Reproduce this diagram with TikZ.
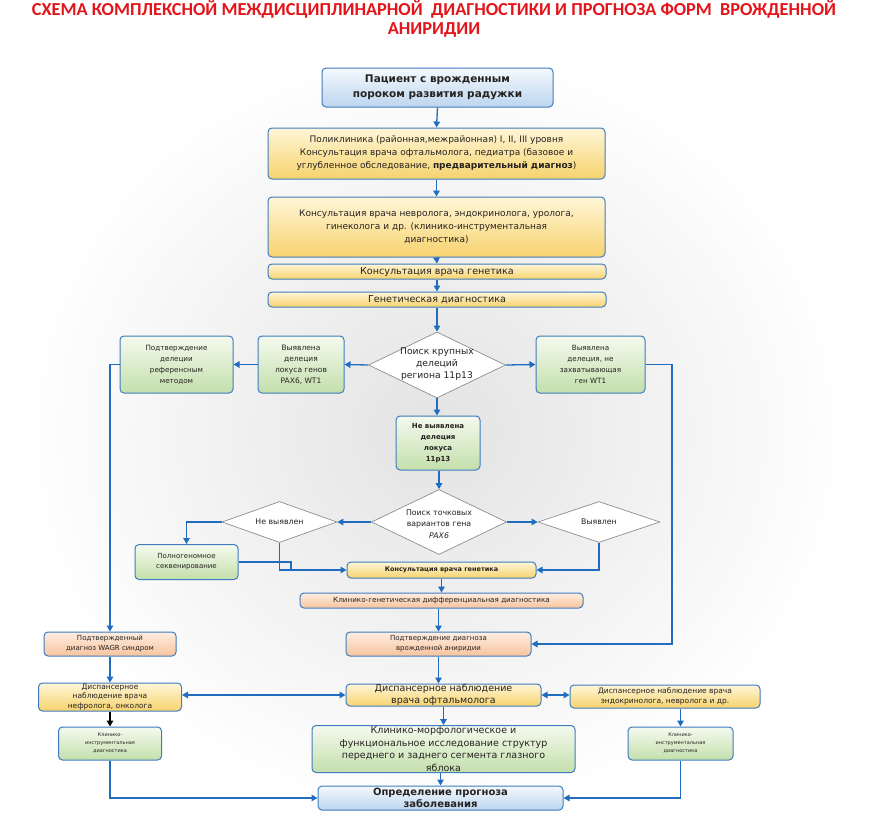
\documentclass[tikz,border=0pt]{standalone}
\usepackage{fontspec}
\setmainfont{DejaVu Sans}
\newfontfamily\titlefont{Carlito}
\usetikzlibrary{arrows.meta,shapes.geometric}
\definecolor{bordc}{HTML}{3F7CBF}
\definecolor{arrc}{HTML}{1F6CC0}
\definecolor{txtc}{HTML}{262220}
\definecolor{yt}{HTML}{FFF6D8}
\definecolor{yb}{HTML}{F7D36E}
\definecolor{bt}{HTML}{F4F9FE}
\definecolor{bb}{HTML}{BDD6EF}
\definecolor{gt}{HTML}{F5FAEF}
\definecolor{gb}{HTML}{C3DFAB}
\definecolor{pt}{HTML}{FEEEE2}
\definecolor{pb}{HTML}{F7C49C}
\definecolor{diac}{HTML}{8E8E8E}
\definecolor{titlec}{HTML}{E3151B}
\newcommand\fz[2]{\fontsize{#1}{#2}\selectfont}
\tikzset{
  bx/.style={draw=bordc, line width=1pt, rounded corners=4pt, align=center, inner sep=0pt, text=txtc},
  yel/.style={bx, top color=yt, bottom color=yb},
  blu/.style={bx, top color=bt, bottom color=bb},
  grn/.style={bx, top color=gt, bottom color=gb},
  pch/.style={bx, top color=pt, bottom color=pb},
  dia/.style={diamond, draw=diac, line width=0.7pt, fill=white, inner sep=0pt},
  dtxt/.style={align=center, inner sep=0pt, text=txtc},
  arr/.style={draw=arrc, line width=1.3pt, -{Triangle[length=6pt,width=6.5pt]}},
  darr/.style={draw=arrc, line width=1.3pt, {Triangle[length=6pt,width=6.5pt]}-{Triangle[length=6pt,width=6.5pt]}},
  barr/.style={draw=black, line width=1.3pt, -{Triangle[length=6pt,width=6.5pt]}},
  ln/.style={draw=arrc, line width=1.3pt},
}
\begin{document}
\begin{tikzpicture}[x=1pt,y=-1pt]
\useasboundingbox (0,0) rectangle (873,819);
\fill[white] (0,0) rectangle (873,819);
\shade[inner color=gray!22, outer color=white] (20,45) rectangle (850,819);

\node[font=\titlefont\bfseries\fz{18.3}{19.5}, text=titlec, align=center] (title) at (434,19)
  {СХЕМА КОМПЛЕКСНОЙ МЕЖДИСЦИПЛИНАРНОЙ\ \ ДИАГНОСТИКИ И ПРОГНОЗА ФОРМ\ \ ВРОЖДЕННОЙ\\АНИРИДИИ};

% boxes
\node[blu, minimum width=231, minimum height=39, font=\bfseries\fz{10.5}{15}] (p1) at (437.5,87.5)
  {Пациент с врожденным\\пороком развития радужки};
\node[yel, minimum width=337, minimum height=51, font=\fz{9}{13}] (b2) at (436.5,153.5)
  {Поликлиника (районная,межрайонная) I, II, III уровня\\Консультация врача офтальмолога, педиатра (базовое и\\углубленное обследование, \textbf{предварительный диагноз})};
\node[yel, minimum width=337, minimum height=60, font=\fz{9}{13}] (b3) at (436.5,227)
  {Консультация врача невролога, эндокринолога, уролога,\\гинеколога и др. (клинико-инструментальная\\диагностика)};
\node[yel, minimum width=338, minimum height=15, font=\fz{9.6}{11}] (b4) at (437,271.5) {Консультация врача генетика};
\node[yel, minimum width=338, minimum height=15, font=\fz{9.6}{11}] (b5) at (437,299.5) {Генетическая диагностика};

\node[dia, minimum width=137, minimum height=66] (d1) at (437,365) {};
\node[dtxt, font=\fz{9.2}{12}] (d1t) at (437,364) {Поиск крупных\\делеций\\региона 11p13};

\node[grn, minimum width=86, minimum height=57, font=\fz{7.5}{11}] (l1) at (301,364.5) {Выявлена\\делеция\\локуса генов\\PAX6, WT1};
\node[grn, minimum width=113, minimum height=57, font=\fz{7.2}{11}] (l2) at (176.5,364.5) {Подтверждение\\делеции\\референсным\\методом};
\node[grn, minimum width=109, minimum height=57, font=\fz{7.2}{11}] (r1) at (590.5,364.5) {Выявлена\\делеция, не\\захватывающая\\ген WT1};
\node[grn, minimum width=84, minimum height=54, font=\bfseries\fz{7}{11}] (m1) at (438,443) {Не выявлена\\делеция\\локуса\\11p13};

\node[dia, minimum width=135, minimum height=65] (d2) at (439,522) {};
\node[dtxt, font=\fz{7.8}{11.5}] (d2t) at (439,524) {Поиск точковых\\вариантов гена\\\textit{PAX6}};
\node[dia, minimum width=115, minimum height=41] (dl) at (279.5,522) {};
\node[dtxt, font=\fz{7.8}{10}] (dlt) at (279.5,522) {Не выявлен};
\node[dia, minimum width=122, minimum height=41] (dr) at (599,522) {};
\node[dtxt, font=\fz{7.8}{10}] (drt) at (599,522) {Выявлен};

\node[grn, minimum width=103, minimum height=35, font=\fz{7}{10}] (pg) at (186.5,562) {Полногеномное\\секвенирование};
\node[yel, minimum width=189, minimum height=16, font=\bfseries\fz{6.5}{9}] (kg2) at (441.5,570) {Консультация врача генетика};
\node[pch, minimum width=283, minimum height=15, font=\fz{7.2}{9}] (kgd) at (441.5,600.5) {Клинико-генетическая дифференциальная диагностика};
\node[pch, minimum width=132, minimum height=24, font=\fz{7}{10}] (wagr) at (110,644) {Подтвержденный\\диагноз WAGR синдром};
\node[pch, minimum width=185, minimum height=24, font=\fz{7}{10}] (pda) at (438.5,644) {Подтверждение диагноза\\врожденной аниридии};
\node[yel, minimum width=195, minimum height=22, font=\fz{9.5}{11.5}] (do) at (443.5,695) {Диспансерное наблюдение\\врача офтальмолога};
\node[yel, minimum width=143, minimum height=28, font=\fz{7.5}{9.5}] (dn) at (110,697) {Диспансерное\\наблюдение врача\\нефролога, онколога};
\node[yel, minimum width=190, minimum height=23, font=\fz{7.5}{10.5}] (de) at (665,696.5) {Диспансерное наблюдение врача\\эндокринолога, невролога и др.};
\node[grn, minimum width=103, minimum height=33, font=\fz{5}{8}] (ki1) at (110,743.5) {Клинико-\\инструментальная\\диагностика};
\node[grn, minimum width=263, minimum height=47, font=\fz{9.5}{12.5}] (km) at (443.5,749) {Клинико-морфологическое и\\функциональное исследование структур\\переднего и заднего сегмента глазного\\яблока};
\node[grn, minimum width=105, minimum height=33, font=\fz{5}{8}] (ki2) at (680.5,743.5) {Клинико-\\инструментальная\\диагностика};
\node[blu, minimum width=245, minimum height=24, font=\bfseries\fz{10}{12}] (pr) at (440.5,798) {Определение прогноза\\заболевания};

% connectors
\draw[arr] (p1.south) -- (b2.north);
\draw[arr] (b2.south) -- (b3.north);
\draw[arr] (b3.south) -- (b4.north);
\draw[arr] (b4.south) -- (b5.north);
\draw[arr] (b5.south) -- (d1.north);
\draw[arr] (d1.west) -- (l1.east);
\draw[arr] (l1.west) -- (l2.east);
\draw[arr] (d1.east) -- (r1.west);
\draw[arr] (d1.south) -- (d1.south |- m1.north);
\draw[arr] (m1.south -| d2.north) -- (d2.north);
\draw[arr] (l2.west) -- (wagr.north |- l2.west) -- (wagr.north);
\draw[arr] (r1.east) -- (672,364.5) |- (pda.east);
\draw[arr] (d2.west) -- (dl.east);
\draw[arr] (d2.east) -- (dr.west);
\draw[arr] (dl.west) -| (pg.north);
\draw[arr] (pg.east) -- (291,562) |- (kg2.west);
\draw[ln] (dl.south) |- (291,570);
\draw[arr] (dr.south) |- (kg2.east);
\draw[arr] (kg2.south) -- (kgd.north -| kg2.south);
\draw[arr] (kgd.south -| pda.north) -- (pda.north);
\draw[arr] (pda.south) -- (pda.south |- do.north);
\draw[darr] (dn.east |- do.west) -- (do.west);
\draw[darr] (do.east) -- (de.west |- do.east);
\draw[arr] (wagr.south) -- (dn.north);
\draw[barr] (dn.south) -- (ki1.north);
\draw[arr] (do.south -| km.north) -- (km.north);
\draw[arr] (km.south -| pr.north) -- (pr.north);
\draw[arr] (ki1.south) |- (pr.west);
\draw[arr] (ki2.north |- de.south) -- (ki2.north);
\draw[arr] (ki2.south) |- (pr.east);
\end{tikzpicture}
\end{document}
